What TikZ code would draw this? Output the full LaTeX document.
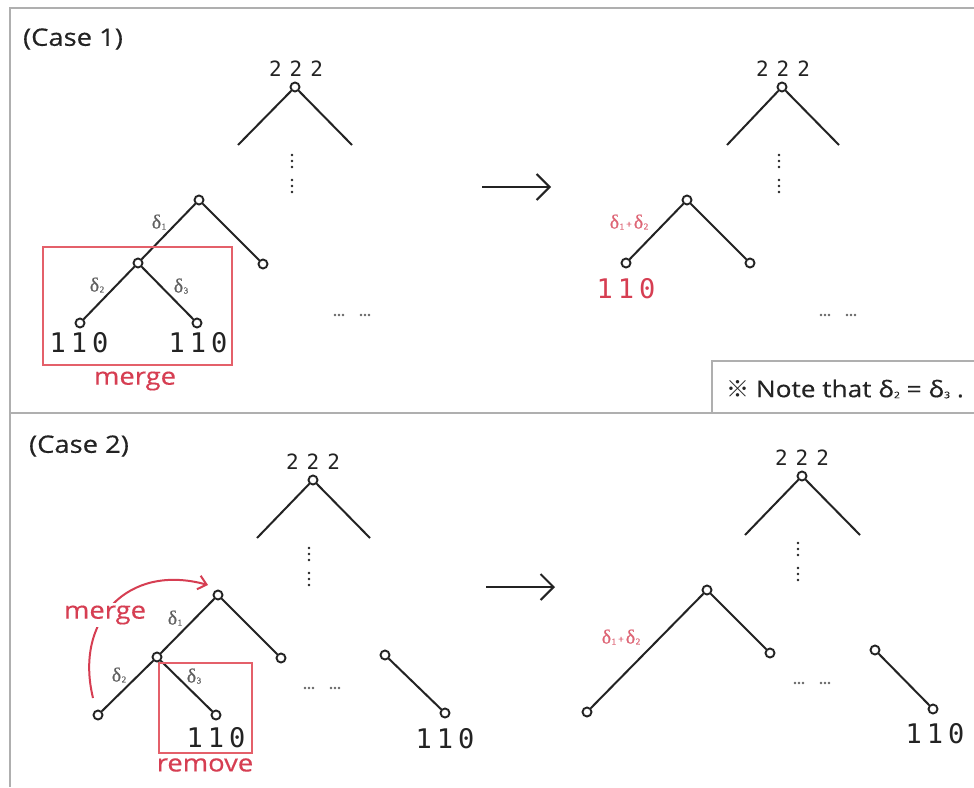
\documentclass[tikz,border=0pt]{standalone}
\usepackage{fontspec}
\setmainfont{Open Sans}
\newfontfamily\widef[FakeStretch=1.14,FakeBold=0.4]{Open Sans}
\newfontfamily\monof{DejaVu Sans Mono}
\newfontfamily\cjkf{Noto Sans CJK SC}
\newfontfamily\serf[FakeBold=0.6]{Liberation Serif}
\usetikzlibrary{arrows.meta}
\definecolor{redc}{RGB}{214,62,82}
\definecolor{boxred}{RGB}{228,96,106}
\definecolor{ink}{RGB}{35,35,35}
\definecolor{labc}{RGB}{95,95,95}
\definecolor{framec}{RGB}{175,175,175}
\newcommand\ttt{2\kern8pt2\kern8pt2}
\newcommand\oot{1\kern5pt1\kern5pt0}
\newcommand\dl[1]{δ\kern0.5pt{\fontsize{9}{9}\selectfont\raisebox{-1pt}{#1}}}
\newcommand\vdotsat[2]{\foreach \yy in {0,6,12,25,31,37}{\fill[ink] (#1,#2+\yy) circle (1.4pt);}}
\newcommand\hdotsat[2]{\foreach \xx in {-22,-18,-14,4,8,12}{\fill[ink!70] (#1+\xx,#2) circle (1.3pt);}}
\begin{document}
\begin{tikzpicture}[x=1pt,y=-1pt,
  dot/.style={circle,draw=ink,line width=1.9pt,inner sep=0pt,minimum size=9pt,fill=white},
  edge/.style={draw=ink,line width=2pt},
  bignum/.style={text=ink,font=\monof\fontsize{27}{27}\selectfont,inner sep=0pt},
  topnum/.style={text=ink,font=\monof\fontsize{21}{21}\selectfont,inner sep=0pt},
  lab/.style={text=labc,font=\serf\fontsize{20}{20}\selectfont,inner sep=1pt},
  rlab/.style={text=redc!80,font=\serf\fontsize{20}{20}\selectfont,inner sep=1pt},
  title/.style={text=ink,font=\widef\fontsize{24}{24}\selectfont,inner sep=0pt},
  redword/.style={text=redc,font=\widef\fontsize{24}{24}\selectfont,inner sep=1pt},
  redbox/.style={draw=boxred,line width=1.6pt},
  bigarrow/.style={draw=ink,line width=2pt,-{Straight Barb[length=13pt,width=26pt,line width=2pt]}},
]
\useasboundingbox (0,0) rectangle (974,787);
\fill[white] (0,0) rectangle (974,787);
% frame
\draw[framec,line width=1.6pt] (974,8) -- (10,8) -- (10,787);
\draw[framec,line width=1.6pt] (10,413) -- (974,413);
\draw[framec,line width=1.4pt] (712,413) |- (974,361);

%================ CASE 1 =================
\node[title] (c1) at (73,39) {(Case 1)};

% left top tree
\node[dot] (r1) at (295,87) {};
\node[topnum] (n222a) at (296,69) {\ttt};
\coordinate (r1l) at (238,145);
\coordinate (r1r) at (352,145);
\draw[edge] (r1) -- (r1l);
\draw[edge] (r1) -- (r1r);
\vdotsat{292}{155}

% left subtree
\node[dot] (a1) at (199,200) {};
\node[dot] (b1) at (138,263) {};
\node[dot] (c1n) at (263,264) {};
\node[dot] (d1) at (80,323) {};
\node[dot] (e1) at (197,323) {};
\draw[edge] (a1) -- (b1);
\draw[edge] (a1) -- (c1n);
\draw[edge] (b1) -- (d1);
\draw[edge] (b1) -- (e1);
\node[lab] (l1) at (159,222) {\dl{1}};
\node[lab] (l2) at (97,285) {\dl{2}};
\node[lab] (l3) at (181,286) {\dl{3}};
\node[bignum] (o1) at (79,343) {\oot};
\node[bignum] (o2) at (198,343) {\oot};
\draw[redbox] (43,247) rectangle (232,365);
\node[redword] (m1) at (135,381) {merge};
\hdotsat{357}{315}

% arrow 1
\coordinate (arA) at (482,187);
\coordinate (arB) at (551,187);
\draw[bigarrow] (arA) -- (arB);

% right top tree
\node[dot] (r2) at (782,87) {};
\node[topnum] (n222b) at (783,69) {\ttt};
\coordinate (r2l) at (727,145);
\coordinate (r2r) at (839,145);
\draw[edge] (r2) -- (r2l);
\draw[edge] (r2) -- (r2r);
\vdotsat{779}{155}

\node[dot] (a2) at (687,200) {};
\node[dot] (b2) at (626,263) {};
\node[dot] (c2) at (750,263) {};
\draw[edge] (a2) -- (b2);
\draw[edge] (a2) -- (c2);
\node[rlab] (l12) at (629,222) {\dl{1}\kern2pt\raisebox{1pt}{\fontsize{10}{10}\selectfont+}\kern2pt\dl{2}};
\node[bignum,text=redc] (o3) at (626,289) {\oot};
\hdotsat{843}{315}

% note
\node[text=ink,font=\widef\fontsize{23}{23}\selectfont,inner sep=0pt] (note) at (845,389)
  {{\cjkf ※} Note that \dl{2} = \dl{3} .};

%================ CASE 2 =================
\node[title] (c2t) at (79,446) {(Case 2)};

\node[dot] (r3) at (313,480) {};
\node[topnum] (n222c) at (313,462) {\ttt};
\coordinate (r3l) at (257,538);
\coordinate (r3r) at (370,538);
\draw[edge] (r3) -- (r3l);
\draw[edge] (r3) -- (r3r);
\vdotsat{309}{548}

\node[dot] (a3) at (218,595) {};
\node[dot] (b3) at (157,657) {};
\node[dot] (c3) at (281,658) {};
\node[dot] (d3) at (98,715) {};
\node[dot] (e3) at (216,715) {};
\draw[edge] (a3) -- (b3);
\draw[edge] (a3) -- (c3);
\draw[edge] (b3) -- (d3);
\draw[edge] (b3) -- (e3);
\node[lab] (l4) at (175,618) {\dl{1}};
\node[lab] (l5) at (119,675) {\dl{2}};
\node[lab] (l6) at (194,676) {\dl{3}};
\draw[redbox] (159,663) rectangle (252,753);
\node[bignum] (o4) at (216,738) {\oot};
\node[redword] (rm) at (205,765) {remove};
\hdotsat{327}{688}

\node[dot] (s1) at (385,655) {};
\node[dot] (s2) at (445,713) {};
\draw[edge] (s1) -- (s2);
\node[bignum] (o5) at (445,739) {\oot};

% merge arc
\coordinate (mA) at (93,698);
\coordinate (mB) at (208,585);
\draw[redc,line width=2pt,-{Straight Barb[length=8pt,width=14pt,line width=2pt]}]
  (mA) .. controls (74,620) and (128,563) .. (mB);
\node[redword,fill=white,inner sep=3pt] (m2) at (105,615) {merge};

% arrow 2
\coordinate (arC) at (486,587);
\coordinate (arD) at (555,587);
\draw[bigarrow] (arC) -- (arD);

% right tree case 2
\node[dot] (r4) at (802,476) {};
\node[topnum] (n222d) at (802,458) {\ttt};
\coordinate (r4l) at (745,535);
\coordinate (r4r) at (860,535);
\draw[edge] (r4) -- (r4l);
\draw[edge] (r4) -- (r4r);
\vdotsat{798}{543}

\node[dot] (a4) at (707,590) {};
\node[dot] (b4) at (587,712) {};
\node[dot] (c4) at (770,653) {};
\draw[edge] (a4) -- (b4);
\draw[edge] (a4) -- (c4);
\node[rlab] (l78) at (621,637) {\dl{1}\kern2pt\raisebox{1pt}{\fontsize{10}{10}\selectfont+}\kern2pt\dl{2}};
\hdotsat{817}{683}

\node[dot] (s3) at (875,650) {};
\node[dot] (s4) at (933,709) {};
\draw[edge] (s3) -- (s4);
\node[bignum] (o6) at (935,734) {\oot};
\end{tikzpicture}
\end{document}
